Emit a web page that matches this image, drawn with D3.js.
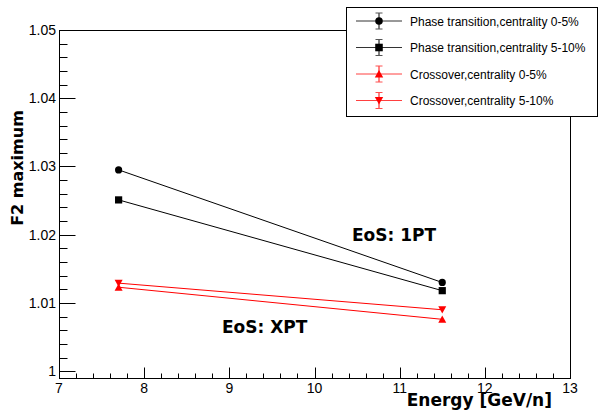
<!DOCTYPE html>
<html>
<head>
<meta charset="utf-8">
<script src="https://cdn.jsdelivr.net/npm/d3@7"></script>
<style>
  html, body { margin: 0; padding: 0; background: #fff; }
  svg { display: block; }
</style>
</head>
<body>
<div id="chart"></div>
<script>
// data
const energies = [7.7, 11.5];
const ptCentral = [1.0295, 1.0130];     // Phase transition, 0-5%
const ptPeripheral = [1.0251, 1.0118];  // Phase transition, 5-10%
const coCentral = [1.0123, 1.0076];     // Crossover, 0-5%
const coPeripheral = [1.0129, 1.0090];  // Crossover, 5-10%
const xTicks = [7, 8, 9, 10, 11, 12, 13];
const yTicks = [1, 1.01, 1.02, 1.03, 1.04, 1.05];
const legendLabels = [
  "Phase transition,centrality 0-5%",
  "Phase transition,centrality 5-10%",
  "Crossover,centrality 0-5%",
  "Crossover,centrality 5-10%"
];

const W = 601, H = 411;
const frame = {left: 59, right: 570, top: 30, bottom: 378};

const series = [
  {values: ptCentral, color: "#000", marker: "circle"},
  {values: ptPeripheral, color: "#000", marker: "square"},
  {values: coCentral, color: "#ff0000", marker: "triUp"},
  {values: coPeripheral, color: "#ff0000", marker: "triDown"}
];

const svg = d3.select("#chart").append("svg")
  .attr("width", W)
  .attr("height", H);

const x = d3.scaleLinear().domain([7, 13]).range([frame.left, frame.right]);
const y = d3.scaleLinear().domain([0.999, 1.05]).range([frame.bottom, frame.top]);

// frame
svg.append("rect")
  .attr("x", frame.left + 0.5).attr("y", frame.top + 0.5)
  .attr("width", frame.right - frame.left).attr("height", frame.bottom - frame.top)
  .attr("fill", "none").attr("stroke", "#000").attr("stroke-width", 1);

// x axis ticks (inside, pointing up)
const xMinor = d3.range(7, 13.001, 0.2).filter(v => Math.abs(v - Math.round(v)) > 1e-6);
const xAxisG = svg.append("g").attr("transform", `translate(0.5,${frame.bottom + 0.5})`);
xAxisG.selectAll("line.minor").data(xMinor).join("line")
  .attr("x1", d => Math.round(x(d))).attr("x2", d => Math.round(x(d)))
  .attr("y1", 0).attr("y2", -5).attr("stroke", "#000");
xAxisG.selectAll("line.major").data(xTicks).join("line")
  .attr("x1", d => Math.round(x(d))).attr("x2", d => Math.round(x(d)))
  .attr("y1", 0).attr("y2", -11).attr("stroke", "#000");
svg.append("g").selectAll("text").data(xTicks).join("text")
  .attr("x", d => x(d)).attr("y", 393)
  .attr("text-anchor", "middle")
  .style("font-family", "'Liberation Sans', Arial, sans-serif")
  .style("font-size", "14px")
  .text(d => d);

// y axis ticks (inside, pointing right)
const yMinor = d3.range(1, 1.0501, 0.002).filter(v => Math.abs(v * 100 - Math.round(v * 100)) > 1e-6);
const yAxisG = svg.append("g").attr("transform", `translate(${frame.left + 0.5},0.5)`);
yAxisG.selectAll("line.minor").data(yMinor).join("line")
  .attr("y1", d => Math.round(y(d))).attr("y2", d => Math.round(y(d)))
  .attr("x1", 0).attr("x2", 8).attr("stroke", "#000");
yAxisG.selectAll("line.major").data(yTicks).join("line")
  .attr("y1", d => Math.round(y(d))).attr("y2", d => Math.round(y(d)))
  .attr("x1", 0).attr("x2", 16).attr("stroke", "#000");
svg.append("g").selectAll("text").data(yTicks).join("text")
  .attr("x", 56).attr("y", d => y(d) + 5)
  .attr("text-anchor", "end")
  .style("font-family", "'Liberation Sans', Arial, sans-serif")
  .style("font-size", "14px")
  .text(d => d === 1 ? "1" : d3.format(".2f")(d));

// axis titles
svg.append("text")
  .attr("x", 552).attr("y", 406)
  .attr("text-anchor", "end")
  .style("font-family", "'DejaVu Sans', sans-serif")
  .style("font-weight", "bold")
  .style("font-size", "17px")
  .text("Energy [GeV/n]");

svg.append("text")
  .attr("transform", "translate(23,168) rotate(-90)")
  .attr("text-anchor", "middle")
  .style("font-family", "'DejaVu Sans', sans-serif")
  .style("font-weight", "bold")
  .style("font-size", "16px")
  .text("F2 maximum");

// annotations
svg.append("text")
  .attr("x", 352).attr("y", 241)
  .style("font-family", "'DejaVu Sans', sans-serif")
  .style("font-weight", "bold").style("font-size", "17px")
  .text("EoS: 1PT");
svg.append("text")
  .attr("x", 222).attr("y", 333)
  .style("font-family", "'DejaVu Sans', sans-serif")
  .style("font-weight", "bold").style("font-size", "17px")
  .text("EoS: XPT");

// marker shapes
function drawMarker(g, type, cx, cy, color, s) {
  if (type === "circle") {
    g.append("circle").attr("cx", cx).attr("cy", cy).attr("r", 3.6 * s).attr("fill", color);
  } else if (type === "square") {
    const h = 3.6 * s;
    g.append("rect").attr("x", cx - h).attr("y", cy - h)
      .attr("width", 2 * h).attr("height", 2 * h).attr("fill", color);
  } else {
    const h = 4 * s, dir = type === "triUp" ? 1 : -1;
    g.append("path")
      .attr("d", `M${cx - h},${cy + dir * h * 0.85}L${cx + h},${cy + dir * h * 0.85}L${cx},${cy - dir * h * 0.95}Z`)
      .attr("fill", color);
  }
}

// lines + markers
const line = d3.line().x(d => x(d[0])).y(d => y(d[1]));
const plot = svg.append("g");
series.forEach(s => {
  const pts = energies.map((e, i) => [e, s.values[i]]);
  plot.append("path").datum(pts)
    .attr("d", line)
    .attr("fill", "none")
    .attr("stroke", s.color)
    .attr("stroke-width", 1);
});
series.forEach(s => {
  energies.forEach((e, i) => drawMarker(plot, s.marker, x(e), y(s.values[i]), s.color, 1));
});

// legend
const leg = svg.append("g");
leg.append("rect")
  .attr("x", 346.5).attr("y", 7.5).attr("width", 251).attr("height", 109)
  .attr("fill", "#fff").attr("stroke", "#000");
series.forEach((s, i) => {
  const cy = 21 + i * 26.5;
  const errColor = s.color === "#000" ? "#555" : "#ff5050";
  leg.append("line").attr("x1", 356).attr("x2", 402).attr("y1", cy).attr("y2", cy)
    .attr("stroke", s.color === "#000" ? "#333" : "#ff4040");
  leg.append("line").attr("x1", 379).attr("x2", 379).attr("y1", cy - 8).attr("y2", cy + 8)
    .attr("stroke", s.color);
  [cy - 8, cy + 8].forEach(yy => leg.append("line")
    .attr("x1", 375.5).attr("x2", 382.5).attr("y1", yy).attr("y2", yy)
    .attr("stroke", errColor));
  drawMarker(leg, s.marker, 379, cy, s.color, 1.05);
  leg.append("text")
    .attr("x", 410).attr("y", cy + 4.5)
    .style("font-family", "'Liberation Sans', Arial, sans-serif")
    .style("font-size", "12px")
    .text(legendLabels[i]);
});
</script>
</body>
</html>
